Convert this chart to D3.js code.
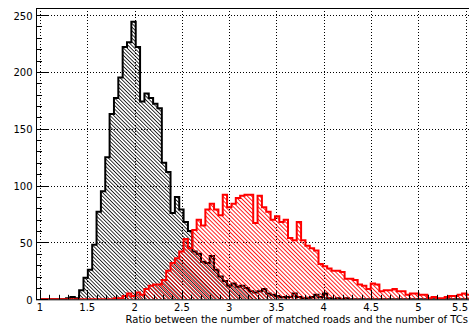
<!DOCTYPE html>
<html>
<head>
<meta charset="utf-8">
<script src="https://cdn.jsdelivr.net/npm/d3@7/dist/d3.min.js"></script>
<style>
  html, body { margin: 0; padding: 0; background: #fff; }
  svg { display: block; }
  text { font-family: "DejaVu Sans", sans-serif; font-size: 10px; fill: #000; }
</style>
</head>
<body>
<svg id="chart" width="469" height="327"></svg>
<script>
// Histogram binning: 100 bins starting at 1.0
const binStart = 1.0;
const binWidth = 0.046;

// Black histogram (matched roads / TCs, sample A)
const blackCounts = [
  0, 0, 0, 0, 0, 0, 1, 2, 1, 8,
  19, 26, 48, 77, 95, 125, 163, 177, 195, 222,
  226, 244, 222, 174, 181, 177, 172, 168, 120, 112,
  76, 90, 79, 68, 60, 42, 40, 33, 32, 38,
  26, 20, 16, 12, 14, 11, 12, 10, 7, 6,
  7, 9, 5, 4, 3, 2, 2, 2, 5, 2,
  1, 1, 2, 4, 2, 5, 1, 0, 1, 0,
  1, 0, 0, 0, 0, 0, 0, 0, 0, 0,
  0, 0, 0, 0, 0, 0, 0, 0, 0, 0,
  0, 0, 0, 0, 0, 0, 0, 0, 0, 0
];

// Red histogram (matched roads / TCs, sample B)
const redCounts = [
  0, 0, 0, 0, 0, 0, 0, 0, 0, 0,
  0, 0, 0, 0, 0, 0, 0, 1, 1, 3,
  5, 3, 6, 4, 9, 12, 13, 13, 17, 25,
  32, 36, 42, 53, 45, 61, 70, 65, 79, 84,
  79, 74, 92, 81, 84, 89, 91, 92, 92, 67,
  91, 81, 77, 70, 73, 68, 70, 54, 52, 68,
  52, 47, 45, 43, 31, 29, 27, 25, 25, 24,
  18, 18, 17, 13, 12, 9, 14, 13, 7, 8,
  8, 9, 7, 7, 4, 5, 5, 4, 4, 1,
  2, 1, 1, 2, 3, 3, 4, 5, 4, 3
];

// Axis ticks
const xTickValues = [1, 1.5, 2, 2.5, 3, 3.5, 4, 4.5, 5, 5.5];
const xTickLabels = ["1", "1.5", "2", "2.5", "3", "3.5", "4", "4.5", "5", "5.5"];
const yTickValues = [0, 50, 100, 150, 200, 250];
const yTickLabels = ["0", "50", "100", "150", "200", "250"];
const xTitle = "Ratio between the number of matched roads and the number of TCs";

const xDomain = [0.958, 5.556];
const yDomain = [0, 256.2];

const W = 469;
const svg = d3.select("#chart");
const frame = { left: 36, right: 471, top: 8, bottom: 299.3 };

const x = d3.scaleLinear().domain(xDomain).range([frame.left, frame.right]);
const y = d3.scaleLinear().domain(yDomain).range([frame.bottom, frame.top]);

const defs = svg.append("defs");
defs.append("clipPath").attr("id", "frameClip")
  .append("rect")
  .attr("x", frame.left).attr("y", frame.top)
  .attr("width", frame.right - frame.left)
  .attr("height", frame.bottom - frame.top);

// Diagonal hatch patterns ("\\\" direction), drawn aliased like a raster plot
function hatch(id, color, spacing) {
  const p = defs.append("pattern")
    .attr("id", id)
    .attr("patternUnits", "userSpaceOnUse")
    .attr("width", spacing).attr("height", spacing)
    .attr("patternTransform", "rotate(45)");
  p.append("line")
    .attr("x1", -1).attr("y1", spacing / 2)
    .attr("x2", spacing + 1).attr("y2", spacing / 2)
    .attr("stroke", color).attr("stroke-width", 0.9)
    .attr("shape-rendering", "crispEdges");
}
hatch("hatchBlack", "#000", 2.6);
hatch("hatchRed", "#ff0000", 2.9);

// Grid
const grid = svg.append("g")
  .attr("stroke", "#000").attr("stroke-width", 1)
  .attr("stroke-dasharray", "1,2").attr("fill", "none");
xTickValues.forEach(v => {
  const px = Math.round(x(v)) + 0.5;
  grid.append("line").attr("x1", px).attr("x2", px)
    .attr("y1", frame.top).attr("y2", frame.bottom);
});
yTickValues.filter(v => v > 0).forEach(v => {
  const py = Math.round(y(v)) + 0.5;
  grid.append("line").attr("x1", frame.left).attr("x2", frame.right)
    .attr("y1", py).attr("y2", py);
});

// Step outline of a histogram
function stepPath(counts) {
  const pts = [[x(binStart), y(0)]];
  counts.forEach((c, i) => {
    const lo = binStart + i * binWidth;
    const hi = lo + binWidth;
    pts.push([x(lo), y(c)], [x(hi), y(c)]);
  });
  pts.push([x(binStart + counts.length * binWidth), y(0)]);
  return "M" + pts.map(p => p[0].toFixed(2) + "," + p[1].toFixed(2)).join("L");
}

const plot = svg.append("g").attr("clip-path", "url(#frameClip)");

function drawHist(counts, color, patternId) {
  plot.append("path").attr("d", stepPath(counts) + "Z")
    .attr("fill", `url(#${patternId})`).attr("stroke", "none");
  plot.append("path").attr("d", stepPath(counts))
    .attr("fill", "none").attr("stroke", color)
    .attr("stroke-width", 2).attr("stroke-linejoin", "miter");
}
drawHist(blackCounts, "#000", "hatchBlack");
drawHist(redCounts, "#ff0000", "hatchRed");

// Frame
svg.append("rect")
  .attr("x", frame.left + 0.5).attr("y", frame.top + 0.5)
  .attr("width", frame.right - frame.left)
  .attr("height", frame.bottom - frame.top)
  .attr("fill", "none").attr("stroke", "#000").attr("stroke-width", 1);

// X axis ticks (major 0.5, minor 0.1)
const axes = svg.append("g").attr("stroke", "#000").attr("stroke-width", 1);
const xMinor = d3.range(10, 56).map(v => v / 10);
xMinor.forEach(v => {
  const major = Math.abs(v * 2 - Math.round(v * 2)) < 1e-6;
  const px = Math.round(x(v)) + 0.5;
  axes.append("line").attr("x1", px).attr("x2", px)
    .attr("y1", frame.bottom).attr("y2", frame.bottom - (major ? 9 : 4.5));
});

// Y axis ticks (major 50, minor 10)
const yMinor = d3.range(0, 251, 10);
yMinor.forEach(v => {
  const major = v % 50 === 0;
  const py = Math.round(y(v)) + 0.5;
  axes.append("line").attr("x1", frame.left).attr("x2", frame.left + (major ? 12 : 6))
    .attr("y1", py).attr("y2", py);
});

// Tick labels; the last one is kept inside the drawing area
const xLabels = svg.append("g").selectAll("text").data(xTickValues).join("text")
  .attr("x", d => x(d)).attr("y", 311)
  .attr("text-anchor", "middle")
  .text((d, i) => xTickLabels[i]);
xLabels.each(function () {
  const b = this.getBBox();
  if (b.x + b.width > W - 1) {
    d3.select(this).attr("x", W - 1).attr("text-anchor", "end");
  }
});

svg.append("g").selectAll("text").data(yTickValues).join("text")
  .attr("x", 32.5).attr("y", d => y(d) + 1)
  .attr("text-anchor", "end").attr("dominant-baseline", "central")
  .text((d, i) => yTickLabels[i]);

// Axis title, right-aligned near the axis end
svg.append("text")
  .attr("x", 468).attr("y", 322.7)
  .attr("text-anchor", "end")
  .text(xTitle);
</script>
</body>
</html>
